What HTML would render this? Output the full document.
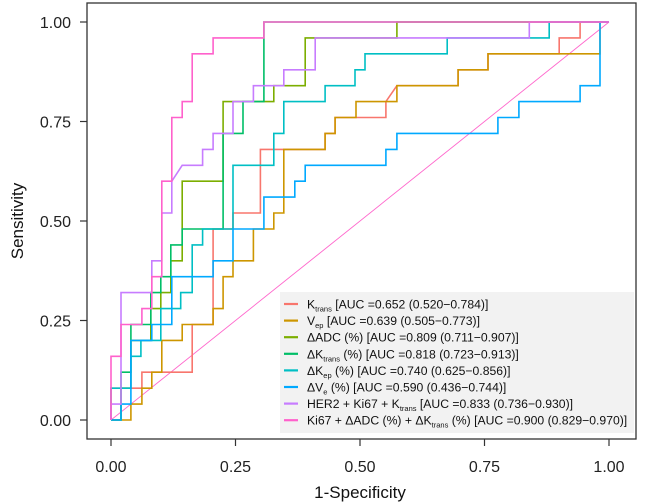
<!DOCTYPE html>
<html><head><meta charset="utf-8"><style>
body{margin:0;background:#fff}
svg{display:block;font-family:"Liberation Sans",Arial,sans-serif}
</style></head><body>
<svg id="chart" width="645" height="504" viewBox="0 0 645 504">
<rect x="87" y="3" width="549" height="436" fill="#fff" stroke="#333" stroke-width="1.3"/>
<g id="axes"></g>
<line x1="111" y1="420" x2="609" y2="22" stroke="#ff66cc" stroke-width="0.9"/>
<g id="curves"></g>
<g id="legend">
<rect x="280" y="292" width="354" height="141" fill="#f2f2f2"/>
</g>
<text x="360" y="498" font-size="17" text-anchor="middle" fill="#111">1-Specificity</text>
<text transform="translate(23,221) rotate(-90)" font-size="17" text-anchor="middle" fill="#111">Sensitivity</text>
</svg>
<script>
const xTicks=[0,0.25,0.5,0.75,1];
const yTicks=[0,0.25,0.5,0.75,1];
const tickLabels=["0.00","0.25","0.50","0.75","1.00"];
const seriesNames=["Ktrans","Vep","dADC","dKtrans","dKep","dVe","HER2","Ki67"];
const seriesColors=["#f8766d","#cd9600","#7cae00","#00be67","#00bfc4","#00a9ff","#c77cff","#ff61cc"];
const fprKtrans=[0,0,0.062,0.062,0.163,0.163,0.205,0.205,0.245,0.245,0.30,0.30,0.347,0.347,0.43,0.43,0.45,0.45,0.492,0.492,0.552,0.552,0.574,0.697,0.697,0.757,0.757,0.90,0.90,0.942,0.942,1];
const tprKtrans=[0,0.08,0.08,0.12,0.12,0.24,0.24,0.48,0.48,0.52,0.52,0.68,0.68,0.68,0.68,0.72,0.72,0.76,0.76,0.76,0.76,0.80,0.84,0.84,0.88,0.88,0.92,0.92,0.96,0.96,1,1];
const fprVep=[0,0.04,0.04,0.062,0.062,0.082,0.082,0.102,0.102,0.143,0.143,0.205,0.205,0.225,0.225,0.245,0.245,0.286,0.286,0.327,0.327,0.347,0.347,0.43,0.43,0.45,0.45,0.492,0.492,0.574,0.574,0.697,0.697,0.757,0.757,0.982,0.982,1];
const tprVep=[0,0,0.04,0.04,0.08,0.08,0.12,0.12,0.20,0.20,0.24,0.24,0.28,0.28,0.36,0.36,0.40,0.40,0.48,0.48,0.52,0.52,0.68,0.68,0.72,0.72,0.76,0.76,0.80,0.80,0.84,0.84,0.88,0.88,0.92,0.92,1,1];
const fprADC=[0,0.02,0.02,0.04,0.04,0.08,0.08,0.10,0.10,0.12,0.12,0.143,0.143,0.225,0.225,0.327,0.327,0.39,0.39,0.574,0.574,1];
const tprADC=[0,0,0.08,0.08,0.20,0.20,0.28,0.28,0.32,0.32,0.40,0.40,0.60,0.60,0.80,0.80,0.84,0.84,0.96,0.96,1,1];
const fprDKtrans=[0,0.02,0.02,0.04,0.04,0.08,0.08,0.10,0.10,0.12,0.12,0.143,0.143,0.225,0.225,0.245,0.245,0.265,0.265,0.307,0.307,1];
const tprDKtrans=[0,0,0.12,0.12,0.24,0.24,0.32,0.32,0.36,0.36,0.44,0.44,0.48,0.48,0.72,0.72,0.72,0.72,0.80,0.80,1,1];
const fprDKep=[0,0,0.04,0.04,0.06,0.06,0.10,0.10,0.14,0.14,0.163,0.163,0.184,0.184,0.245,0.245,0.327,0.327,0.347,0.347,0.43,0.43,0.49,0.49,0.51,0.51,0.675,0.675,0.88,0.88,1];
const tprDKep=[0,0.08,0.08,0.16,0.16,0.20,0.20,0.28,0.28,0.32,0.32,0.44,0.44,0.48,0.48,0.64,0.64,0.72,0.72,0.80,0.80,0.84,0.84,0.88,0.88,0.92,0.92,0.96,0.96,1,1];
const fprDVe=[0,0.02,0.02,0.04,0.04,0.082,0.082,0.122,0.122,0.205,0.205,0.245,0.245,0.307,0.307,0.369,0.369,0.39,0.39,0.552,0.552,0.574,0.574,0.777,0.777,0.819,0.819,0.942,0.942,0.982,0.982,1];
const tprDVe=[0,0,0.04,0.04,0.20,0.20,0.24,0.24,0.36,0.36,0.40,0.40,0.48,0.48,0.56,0.56,0.60,0.60,0.64,0.64,0.68,0.68,0.72,0.72,0.76,0.76,0.80,0.80,0.84,0.84,1,1];
const fprHER2=[0,0,0.02,0.02,0.082,0.082,0.102,0.102,0.122,0.122,0.143,0.184,0.184,0.205,0.205,0.245,0.245,0.286,0.286,0.347,0.347,0.41,0.41,0.84,0.84,1];
const tprHER2=[0,0.04,0.04,0.32,0.32,0.40,0.40,0.52,0.52,0.60,0.64,0.64,0.68,0.68,0.72,0.72,0.80,0.80,0.84,0.84,0.88,0.88,0.96,0.96,1,1];
const fprKi67=[0,0,0.02,0.02,0.062,0.062,0.082,0.082,0.102,0.102,0.122,0.122,0.143,0.143,0.163,0.163,0.205,0.205,0.307,0.307,1];
const tprKi67=[0,0.16,0.16,0.24,0.24,0.28,0.28,0.36,0.36,0.60,0.60,0.76,0.76,0.80,0.80,0.92,0.92,0.96,0.96,1,1];
const legendLabels=[
 ['K','trans',' [AUC =0.652 (0.520−0.784)]'],
 ['V','ep',' [AUC =0.639 (0.505−0.773)]'],
 ['ΔADC (%) [AUC =0.809 (0.711−0.907)]','',''],
 ['ΔK','trans',' (%) [AUC =0.818 (0.723−0.913)]'],
 ['ΔK','ep',' (%) [AUC =0.740 (0.625−0.856)]'],
 ['ΔV','e',' (%) [AUC =0.590 (0.436−0.744)]'],
 ['HER2 + Ki67 + K','trans',' [AUC =0.833 (0.736−0.930)]'],
 ['Ki67 + ΔADC (%) + ΔK','trans',' (%) [AUC =0.900 (0.829−0.970)]']
];
const NS='http://www.w3.org/2000/svg';
const sx=v=>111+v*498, sy=v=>420-v*398;
const axes=document.getElementById('axes');
function mk(tag,attrs,parent){const e=document.createElementNS(NS,tag);for(const k in attrs)e.setAttribute(k,attrs[k]);parent.appendChild(e);return e;}
xTicks.forEach((t,i)=>{
 const l=mk('line',{x1:sx(t),x2:sx(t),y1:439,y2:446,stroke:'#333','stroke-width':1.2},axes);
 
 
 const tx=mk('text',{x:sx(t),y:472,'font-size':16,'text-anchor':'middle',fill:'#222'},axes);
 tx.textContent=tickLabels[i];
 
 
});
yTicks.forEach((t,i)=>{
 const l=mk('line',{x1:80,x2:87,y1:sy(t),y2:sy(t),stroke:'#333','stroke-width':1.2},axes);
 
 
 const tx=mk('text',{x:71,y:sy(t)+6,'font-size':16,'text-anchor':'end',fill:'#222'},axes);
 tx.textContent=tickLabels[i];
 
 
});
const fprs=[fprKtrans,fprVep,fprADC,fprDKtrans,fprDKep,fprDVe,fprHER2,fprKi67];
const tprs=[tprKtrans,tprVep,tprADC,tprDKtrans,tprDKep,tprDVe,tprHER2,tprKi67];
const curves=document.getElementById('curves');
fprs.forEach((f,i)=>{
 const pts=f.map((x,j)=>sx(x).toFixed(1)+','+sy(tprs[i][j]).toFixed(1)).join(' ');
 const p=mk('polyline',{points:pts,fill:'none',stroke:seriesColors[i],'stroke-width':1.6},curves);
 
 
});
const lg=document.getElementById('legend');
legendLabels.forEach((lab,i)=>{
 const y=304+i*16.6;
 const k=mk('line',{x1:284,x2:298,y1:y,y2:y,stroke:seriesColors[i],'stroke-width':2.2},lg);
 
 
 const t=mk('text',{x:307,y:y+4.5,'font-size':12.2,fill:'#111'},lg);
 
 
 const a=mk('tspan',{},t);a.textContent=lab[0];
 if(lab[1]){const b=mk('tspan',{'font-size':7.5,dy:3},t);b.textContent=lab[1];
  const c=mk('tspan',{dy:-3},t);c.textContent=lab[2];}
});
</script>
</body></html>
